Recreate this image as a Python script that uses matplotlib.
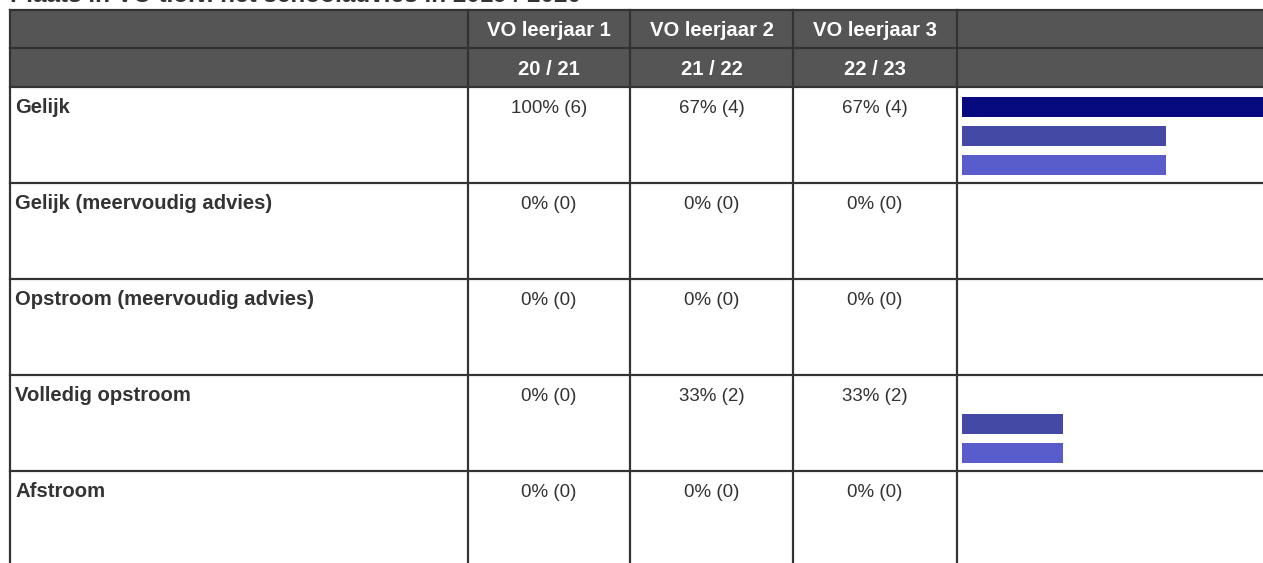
import matplotlib.pyplot as plt
from matplotlib.patches import Rectangle

plt.rcParams['font.family'] = ['Liberation Sans', 'DejaVu Sans']

# === Data ===
titel = "Plaats in VO t.o.v. het schooladvies in 2019 / 2020"
kolommen = ["VO leerjaar 1", "VO leerjaar 2", "VO leerjaar 3"]
schooljaren = ["20 / 21", "21 / 22", "22 / 23"]
categorieen = ["Gelijk", "Gelijk (meervoudig advies)", "Opstroom (meervoudig advies)",
               "Volledig opstroom", "Afstroom"]
percentages = [
    [100, 67, 67],
    [0, 0, 0],
    [0, 0, 0],
    [0, 33, 33],
    [0, 0, 0],
]
aantallen = [
    [6, 4, 4],
    [0, 0, 0],
    [0, 0, 0],
    [0, 2, 2],
    [0, 0, 0],
]
bar_kleuren = ["#070a7e", "#4549a6", "#585dcb"]

# === Layout (pixels) ===
W, H = 1263, 563
x_links = 10
x_kol = [468, 630, 793, 957]
x_rechts = 1275
y_kop = [10, 48, 87]
rij_h = 96
bar_x0 = 962
bar_schaal = 305 / 100
bar_h = 20
bar_stap = 29
lijn = "#333333"
fs = 13.5      # waarden
fs_vet = 14.6  # labels en koppen

fig = plt.figure(figsize=(W / 100, H / 100), dpi=100)
ax = fig.add_axes([0, 0, 1, 1])
ax.set_xlim(0, W)
ax.set_ylim(H, 0)
ax.axis('off')

# titel (bovenkant valt buiten beeld)
ax.text(x_links, 2, titel, fontsize=17.5, fontweight='bold', color='#333333',
        va='baseline', ha='left')

# kopregels
ax.add_patch(Rectangle((x_links, y_kop[0]), x_rechts - x_links, y_kop[2] - y_kop[0],
                       facecolor='#555555', edgecolor='none'))
for i, (k, j) in enumerate(zip(kolommen, schooljaren)):
    xm = (x_kol[i] + x_kol[i + 1]) / 2
    ax.text(xm, y_kop[0] + 26, k, color='white', fontsize=fs_vet,
            fontweight='bold', ha='center', va='baseline')
    ax.text(xm, y_kop[1] + 27, j, color='white', fontsize=fs_vet,
            fontweight='bold', ha='center', va='baseline')

# rijen
for r, cat in enumerate(categorieen):
    y0 = y_kop[2] + r * rij_h
    ax.text(x_links + 5, y0 + 26, cat, fontsize=fs_vet, fontweight='bold',
            color='#333333', ha='left', va='baseline')
    for i in range(3):
        xm = (x_kol[i] + x_kol[i + 1]) / 2
        ax.text(xm, y0 + 26, f"{percentages[r][i]}% ({aantallen[r][i]})",
                fontsize=fs, color='#333333', ha='center', va='baseline')
        if percentages[r][i] > 0:
            ax.barh(y0 + 10 + i * bar_stap + bar_h / 2, percentages[r][i] * bar_schaal,
                    left=bar_x0, height=bar_h, color=bar_kleuren[i])

# lijnen
lw = 2.2 * 72 / 100
y_onder = H + 20
for y in y_kop:
    ax.plot([x_links, x_rechts], [y, y], color=lijn, lw=lw)
for r in range(1, len(categorieen)):
    y = y_kop[2] + r * rij_h
    ax.plot([x_links, x_rechts], [y, y], color=lijn, lw=lw)
for x in [x_links] + x_kol:
    ax.plot([x, x], [y_kop[0], y_onder], color=lijn, lw=lw)

fig.savefig("out.png", dpi=100)
